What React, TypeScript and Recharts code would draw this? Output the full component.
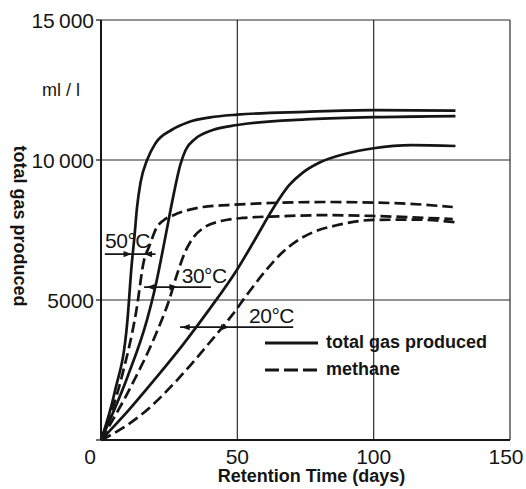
// modules
import { LineChart, Line, XAxis, YAxis, CartesianGrid, Legend, ReferenceLine, ReferenceDot } from "recharts";


// axis ticks
const xTicks = [0, 50, 100, 150];
const yTicks = [0, 5000, 10000, 15000];
const yTickLabels = ["", "5000", "10\u2009000", "15\u2009000"];

// curves: [retention time in days, gas in ml/l]
const totalGas50: [number, number][] = [
  [0, 0], [5, 1700], [9.7, 4280], [11.2, 6200], [12.3, 7300], [13.2, 8300], [14.5, 9200],
  [16.9, 10000], [20, 10600], [26, 11080], [32, 11350], [40, 11520], [50, 11620],
  [75, 11720], [100, 11780], [130, 11760],
];
const totalGas30: [number, number][] = [
  [0, 0], [9.7, 2250], [16.9, 4300], [20, 5500], [23.5, 7200], [26.5, 8700], [29, 9800],
  [31, 10350], [34.5, 10750], [41, 11070], [50, 11250], [75, 11450], [100, 11530], [130, 11570],
];
const totalGas20: [number, number][] = [
  [0, 0], [10, 1050], [20, 2200], [30, 3400], [40, 4700], [50, 6100], [56, 7080], [63, 8250],
  [69, 9100], [74, 9550], [80, 9900], [90, 10230], [100, 10420], [114, 10530], [130, 10500],
];
const methane50: [number, number][] = [
  [0, 0], [7.6, 2250], [13, 4640], [15.8, 6430], [17.6, 6890], [20.5, 7600], [23, 7850],
  [26.6, 8030], [37.4, 8320], [46.4, 8390], [82.4, 8500], [110, 8450], [129, 8320],
];
const methane30: [number, number][] = [
  [0, 0], [12, 2100], [20, 3750], [25, 5000], [28, 5950], [31, 6750], [34, 7250], [38, 7600],
  [44, 7820], [52, 7930], [65, 7990], [82, 8030], [100, 8000], [129, 7890],
];
const methane20: [number, number][] = [
  [0, 0], [8, 430], [16, 1000], [28, 2150], [40, 3500], [48, 4450], [54, 5250], [60, 6000],
  [66, 6650], [72, 7120], [78, 7430], [86, 7660], [100, 7860], [115, 7870], [130, 7780],
];

// temperature annotations
const tempLabels = ["50°C", "30°C", "20°C"];
const tempLabelAt: [number, number][] = [[1.5, 6850], [29.6, 5600], [54.3, 4180]];
const tempSpans: [number, number, number][] = [[1.4, 20, 6640], [15.8, 40.3, 5460], [29, 70.5, 4030]];
const arrowTips: [number, number, number][] = [
  [11.2, 6640, 1], [15.8, 6640, -1], [16.8, 5460, -1], [28, 5460, 1], [29.6, 4030, -1], [47, 4030, 1],
];

const legendItems = ["total gas produced", "methane"];


const toPoints = (pairs: [number, number][]) => pairs.map(([x, y]) => ({ x, y }));

const FONT = "'Liberation Sans', Arial, sans-serif";
const INK = "#151515";
const DASH = "11 5";

const curves = [
  { name: "total50", data: totalGas50, dashed: false },
  { name: "total30", data: totalGas30, dashed: false },
  { name: "total20", data: totalGas20, dashed: false },
  { name: "methane50", data: methane50, dashed: true },
  { name: "methane30", data: methane30, dashed: true },
  { name: "methane20", data: methane20, dashed: true },
];


const XTick = ({ x, y, payload }: any) => (
  <text x={x} y={y} dy={22} dx={payload.value === 0 ? -11 : payload.value === 150 ? -4 : 0}
    textAnchor="middle" fontSize={21} fontFamily={FONT} fill={INK}>
    {payload.value}
  </text>
);

const YTick = ({ x, y, payload }: any) => {
  const label = yTickLabels[yTicks.indexOf(payload.value)];
  if (!label) return null;
  return (
    <text x={x} y={y} dy={7.5} textAnchor="end" fontSize={21} fontFamily={FONT} fill={INK}>
      {label}
    </text>
  );
};

const YTitle = ({ viewBox }: any) => {
  const cy = viewBox.y + viewBox.height / 2;
  return (
    <g fontFamily={FONT} fill={INK}>
      <text x={viewBox.x + 61} y={viewBox.y + 76} textAnchor="middle" fontSize={18}>ml / l</text>
      <text transform={`translate(${viewBox.x + 14}, ${cy - 4}) rotate(90)`} textAnchor="middle"
        fontSize={18} fontWeight="bold">
        total gas produced
      </text>
    </g>
  );
};

const Arrow = ({ cx, cy, dir }: any) => (
  <polygon points={`${cx},${cy} ${cx - dir * 8},${cy - 3.2} ${cx - dir * 8},${cy + 3.2}`} fill={INK} />
);

const TempText = ({ cx, cy, text }: any) => (
  <text x={cx} y={cy} fontSize={21} fontFamily={FONT} fill={INK} letterSpacing={-0.5}>{text}</text>
);

const LegendBox = () => (
  <div style={{ fontFamily: FONT, fontWeight: "bold", fontSize: 18, color: INK }}>
    {legendItems.map((item, i) => (
      <div key={item} style={{ display: "flex", alignItems: "center", height: 27 }}>
        <svg width={64} height={10}>
          <line x1={3} y1={5} x2={56} y2={5} stroke={INK} strokeWidth={2.8}
            strokeDasharray={i === 1 ? "14 5" : undefined} />
        </svg>
        <span>{item}</span>
      </div>
    ))}
  </div>
);


export default function App() {
  return (
    <div style={{ position: "absolute", left: 0, top: 0, width: 526, height: 489, background: "#fff" }}>
      <LineChart width={526} height={489} margin={{ top: 20, right: 16, bottom: 0, left: 0 }}>
        <CartesianGrid stroke="#2a2a2a" strokeWidth={1.2} />
        <XAxis type="number" dataKey="x" domain={[0, 150]} ticks={xTicks} height={49}
          tickSize={0} tickLine={false} axisLine={{ stroke: INK, strokeWidth: 2 }} tick={<XTick />}
          label={{ value: "Retention Time (days)", position: "insideBottom", dx: 6, dy: -2,
            style: { fontFamily: FONT, fontSize: 18, fontWeight: "bold", fill: INK } }} />
        <YAxis type="number" domain={[0, 15000]} ticks={yTicks} width={101} tickSize={5} tickMargin={2}
          tickLine={{ stroke: INK, strokeWidth: 1.2 }} axisLine={{ stroke: INK, strokeWidth: 2 }}
          tick={<YTick />} label={{ content: (p: any) => <YTitle {...p} /> }} />

        {tempSpans.map(([x1, x2, y], i) => (
          <ReferenceLine key={`span${i}`} segment={[{ x: x1, y }, { x: x2, y }]} stroke={INK} strokeWidth={1.6} />
        ))}
        {arrowTips.map(([x, y, dir], i) => (
          <ReferenceDot key={`tip${i}`} x={x} y={y} r={0} shape={(p: any) => <Arrow {...p} dir={dir} />} />
        ))}
        {tempLabels.map((text, i) => (
          <ReferenceDot key={text} x={tempLabelAt[i][0]} y={tempLabelAt[i][1]} r={0}
            shape={(p: any) => <TempText {...p} text={text} />} />
        ))}

        {curves.map((c) => (
          <Line key={c.name} data={toPoints(c.data)} dataKey="y" type="monotone" stroke={INK}
            strokeWidth={2.7} strokeDasharray={c.dashed ? DASH : undefined} dot={false}
            isAnimationActive={false} legendType="none" />
        ))}

        <Legend layout="vertical" align="center" verticalAlign="middle" content={<LegendBox />}
          wrapperStyle={{ left: 262, top: 329, width: 250 }} />
      </LineChart>
    </div>
  );
}
